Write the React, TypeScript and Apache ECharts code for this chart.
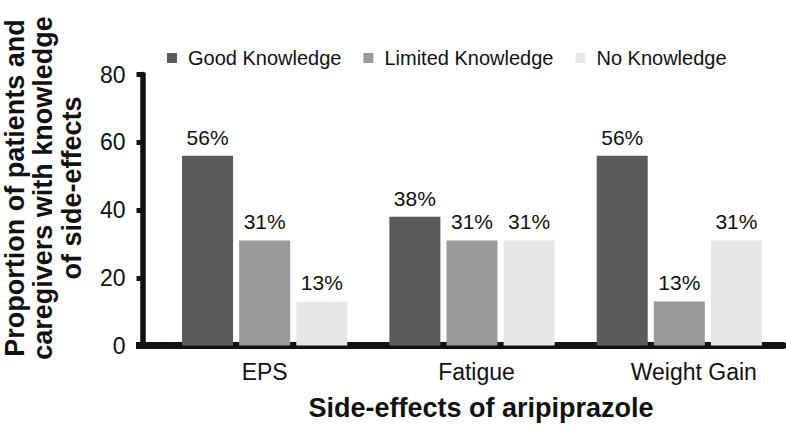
import React, { useEffect, useRef } from "react";
import * as echarts from "echarts";

const categories = ["EPS", "Fatigue", "Weight Gain"];
const seriesNames = ["Good Knowledge", "Limited Knowledge", "No Knowledge"];
const goodKnowledge = [56, 38, 56];
const limitedKnowledge = [31, 31, 13];
const noKnowledge = [13, 31, 31];
const seriesColors = ["#5a5a5a", "#9a9a9a", "#e7e7e7"];
const yMin = 0;
const yMax = 80;
const yInterval = 20;

const FONT = "'Liberation Sans', Arial, sans-serif";
const GRID_LEFT = 161;
const GRID_RIGHT = 3;
const GRID_TOP = 74.5;
const GRID_BOTTOM = 86.5;
const Y_OFFSET = 18.5;
const X_LINE_W = 7;

export default function App() {
  const ref = useRef<HTMLDivElement>(null);
  useEffect(() => {
    if (!ref.current) return;
    document.body.style.margin = "0";
    const chart = echarts.init(ref.current, null, { renderer: "svg" });
    const values = [goodKnowledge, limitedKnowledge, noKnowledge];
    const axisY = 432 - GRID_BOTTOM;
    const labelStyle = { fontFamily: FONT, fontSize: 23, color: "#111" };
    chart.setOption({
      animation: false,
      backgroundColor: "#ffffff",
      textStyle: { fontFamily: FONT, color: "#111" },
      legend: {
        data: seriesNames,
        left: 167,
        top: 48,
        padding: 0,
        icon: "rect",
        itemWidth: 10,
        itemHeight: 10,
        itemGap: 22,
        textStyle: {
          fontFamily: FONT,
          fontSize: 20,
          lineHeight: 20,
          color: "#111",
          padding: [0, 0, 0, 6],
        },
      },
      grid: {
        left: GRID_LEFT,
        right: GRID_RIGHT,
        top: GRID_TOP,
        bottom: GRID_BOTTOM,
        containLabel: false,
        outerBoundsMode: "none",
      },
      xAxis: {
        type: "category",
        data: categories,
        axisLine: { show: true, lineStyle: { color: "#111", width: X_LINE_W } },
        axisTick: { show: false },
        axisLabel: {
          interval: 0,
          fontFamily: FONT,
          fontSize: 23,
          color: "#111",
          margin: 15,
          formatter: (v: string, i: number) => `{c${i}|${v}}`,
          rich: {
            c0: { ...labelStyle, padding: [0, 0, 0, 0] },
            c1: { ...labelStyle, padding: [0, 0, 0, 9] },
            c2: { ...labelStyle, padding: [0, 0, 0, 29] },
          },
        },
        name: "Side-effects of aripiprazole",
        nameLocation: "middle",
        nameGap: 49,
        nameTextStyle: {
          fontFamily: FONT,
          fontSize: 27,
          fontWeight: "bold",
          color: "#111",
          padding: [0, 0, 0, 18],
        },
      },
      yAxis: {
        type: "value",
        min: yMin,
        max: yMax,
        interval: yInterval,
        offset: Y_OFFSET,
        axisLine: { show: true, lineStyle: { color: "#111", width: 5.5 } },
        axisTick: { show: true, inside: false, length: 6, lineStyle: { color: "#111", width: 5 } },
        axisLabel: { fontFamily: FONT, fontSize: 23, color: "#111", margin: 17 },
        splitLine: { show: false },
        name: "Proportion of patients and\ncaregivers with knowledge\nof side-effects",
        nameLocation: "middle",
        nameRotate: 90,
        nameGap: 56.5,
        nameTextStyle: {
          fontFamily: FONT,
          fontSize: 27,
          fontWeight: "bold",
          color: "#111",
          lineHeight: 28.5,
          align: "center",
          padding: [0, 0, 0, 44],
        },
      },
      graphic: [
        {
          type: "rect",
          shape: {
            x: GRID_LEFT - Y_OFFSET - 6.5,
            y: axisY - X_LINE_W / 2,
            width: Y_OFFSET + 7,
            height: X_LINE_W,
          },
          style: { fill: "#111" },
          z: 100,
        },
      ],
      series: seriesNames.map((name, i) => ({
        name,
        type: "bar",
        data: values[i],
        barWidth: 51,
        barGap: "12%",
        itemStyle: { color: seriesColors[i] },
        label: {
          show: true,
          position: "top",
          distance: 8,
          fontFamily: FONT,
          fontSize: 21,
          color: "#111",
          formatter: (p: any) => `${p.value}%`,
        },
      })),
    });
    return () => chart.dispose();
  }, []);
  return <div ref={ref} style={{ width: 786, height: 432 }} />;
}
